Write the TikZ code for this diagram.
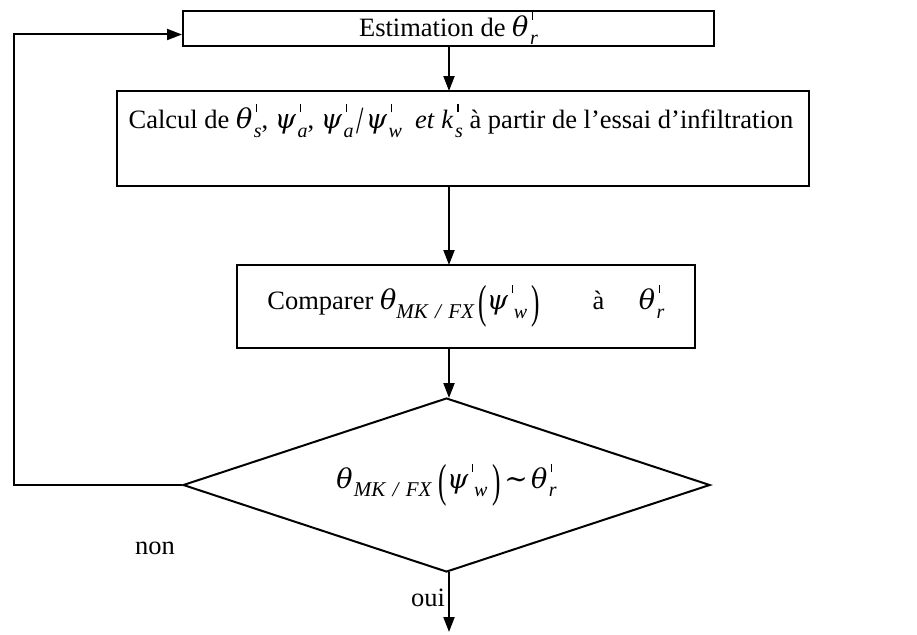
\documentclass[tikz,border=0pt]{standalone}
\usepackage{fontspec}
\setmainfont{Liberation Serif}
\newfontfamily\grkfont{DejaVu Serif}
\usepackage{graphicx}
\usetikzlibrary{arrows.meta,shapes.geometric}
\newcommand\subsz{\fontsize{20}{20}\selectfont}
\newcommand\g[1]{{\grkfont\itshape\fontsize{27}{30}\selectfont #1}}
\newcommand\tck{\rule{0.05em}{0.3em}}
\newcommand\vq[2]{#1\rlap{\hspace{0.14em}\raisebox{0.62em}{\tck}}\hspace{0.06em}\raisebox{-0.32em}{\subsz\textit{#2}}}
\newcommand\vqw[2]{#1\rlap{\hspace{0.14em}\raisebox{0.62em}{\tck}}\hspace{0.22em}\raisebox{-0.32em}{\subsz\textit{#2}}}
\newcommand\bp[1]{\raisebox{-0.3em}{\scalebox{0.95}[1.75]{#1}}}
\newcommand\sla{\hspace{0.12em}\raisebox{-0.18em}{\scalebox{1}[1.45]{/}}\hspace{0.06em}}
\newcommand\mkfx{\raisebox{-0.32em}{\fontsize{21}{21}\selectfont\textit{MK\hspace{0.35em}/\hspace{0.35em}FX}}}
\newcommand\mysim{\hspace{0.12em}{\grkfont\fontsize{28}{28}\selectfont ∼}\hspace{0.12em}}
\begin{document}
\begin{tikzpicture}[x=1pt,y=-1pt,
  every node/.style={font=\fontsize{26.5}{30}\selectfont},
  box/.style={draw,line width=2pt,inner sep=0pt},
  arr/.style={line width=2pt,-{Triangle[length=15pt,width=11pt]}},
  ln/.style={line width=2pt}]
\useasboundingbox (0,0) rectangle (917,634);
\node[box,minimum width=531pt,minimum height=35pt] (b1) at (448.5,28.5) {Estimation de \vq{\g{θ}}{r}};
\node[box,minimum width=692pt,minimum height=95pt] (b2) at (463,138.5) {};
\node (t2) at (461,121) {Calcul de \vq{\g{θ}}{s}, \vq{\g{ψ}}{a}, \vq{\g{ψ}}{a}\sla\vq{\g{ψ}}{w}\hspace{0.5em}\textit{et} \vq{\textit{k}}{s} à partir de l’essai d’infiltration};
\node[box,minimum width=458pt,minimum height=83pt] (b3) at (466,306.5) {Comparer \g{θ}\mkfx\hspace{0.15em}\bp{(}\vqw{\g{ψ}}{w}\hspace{0.15em}\bp{)}\hspace{2em}à\hspace{1.3em}\vq{\g{θ}}{r}};
\node[draw,line width=2pt,diamond,aspect=3.03,minimum width=527pt,minimum height=174pt,inner sep=0pt] (d) at (446.5,485) {\g{θ}\hspace{0.05em}\mkfx\hspace{0.25em}\bp{(}\vqw{\g{ψ}}{w}\hspace{0.2em}\bp{)}\mysim\vq{\g{θ}}{r}};
\coordinate (e) at (449,632);
\coordinate (lp) at (14,485);
\node (non) at (155,548) {non};
\node (oui) at (428,598) {oui};
\draw[arr] (449,46) -- (449,91);
\draw[arr] (449,186) -- (449,265);
\draw[arr] (449,348) -- (449,398);
\draw[arr] (449,572) -- (e);
\draw[arr] (d.west) -- (lp) |- ([yshift=-6pt]b1.west);
\end{tikzpicture}
\end{document}
